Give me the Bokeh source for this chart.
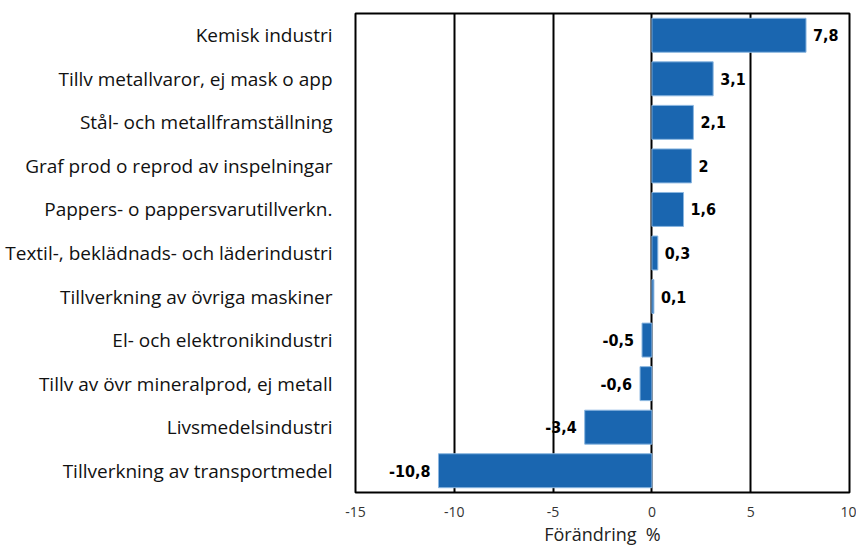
from bokeh.plotting import figure
from bokeh.models import ColumnDataSource, FactorRange, Range1d, FixedTicker
from bokeh.core.properties import value
from bokeh.embed import file_html
from bokeh.resources import INLINE

categories = [
    "Kemisk industri",
    "Tillv metallvaror, ej mask o app",
    "Stål- och metallframställning",
    "Graf prod o reprod av inspelningar",
    "Pappers- o pappersvarutillverkn.",
    "Textil-, beklädnads- och läderindustri",
    "Tillverkning av övriga maskiner",
    "El- och elektronikindustri",
    "Tillv av övr mineralprod, ej metall",
    "Livsmedelsindustri",
    "Tillverkning av transportmedel",
]
values = [7.8, 3.1, 2.1, 2.0, 1.6, 0.3, 0.1, -0.5, -0.6, -3.4, -10.8]
x_ticks = [-15, -10, -5, 0, 5, 10]
x_tick_labels = ["-15", "-10", "-5", "0", "5", "10"]
x_title = "Förändring\u00a0\u00a0%"


def fmt(v):
    s = ("%.1f" % v).rstrip("0").rstrip(".")
    return s.replace(".", ",")


labels = [fmt(v) for v in values]

src = ColumnDataSource(dict(cat=categories, val=values, lab=labels))
pos = ColumnDataSource(dict(
    cat=[c for c, v in zip(categories, values) if v >= 0],
    val=[v for v in values if v >= 0],
    lab=[l for l, v in zip(labels, values) if v >= 0]))
neg = ColumnDataSource(dict(
    cat=[c for c, v in zip(categories, values) if v < 0],
    val=[v for v in values if v < 0],
    lab=[l for l, v in zip(labels, values) if v < 0]))

p = figure(width=856, height=548, output_backend="svg", toolbar_location=None,
           y_range=FactorRange(factors=list(reversed(categories)), range_padding=0),
           x_range=Range1d(-15, 10),
           min_border_left=355, min_border_right=7, min_border_top=13, min_border_bottom=55)

p.hbar(y="cat", right="val", left=0, height=0.78, source=src,
       fill_color="#1a66b0", line_color="#8ab6e0", line_width=1)

narrow = value("Liberation Sans Narrow, Arial Narrow, DejaVu Sans Condensed, sans-serif")
p.text(x="val", y="cat", text="lab", source=pos, x_offset=7,
       text_align="left", text_baseline="middle", text_font=narrow,
       text_font_style="bold", text_font_size="16px", text_color="#000000")
p.text(x="val", y="cat", text="lab", source=neg, x_offset=-8,
       text_align="right", text_baseline="middle", text_font=narrow,
       text_font_style="bold", text_font_size="16px", text_color="#000000")

p.outline_line_color = "#000000"
p.outline_line_width = 2

p.ygrid.grid_line_color = None
p.xgrid.ticker = FixedTicker(ticks=[-10, -5, 0, 5])
p.xgrid.grid_line_color = "#000000"
p.xgrid.grid_line_width = 2

p.xaxis.ticker = FixedTicker(ticks=x_ticks)
p.xaxis.major_label_overrides = {t: s for t, s in zip(x_ticks, x_tick_labels)}
p.xaxis.axis_line_color = None
p.xaxis.major_tick_line_color = None
p.xaxis.minor_tick_line_color = None
p.xaxis.major_label_standoff = 8
p.xaxis.major_label_text_font = "Open Sans"
p.xaxis.major_label_text_font_size = "14px"
p.xaxis.major_label_text_color = "#333333"
p.xaxis.axis_label = x_title
p.xaxis.axis_label_text_font = "Open Sans"
p.xaxis.axis_label_text_font_size = "18px"
p.xaxis.axis_label_text_font_style = "normal"
p.xaxis.axis_label_text_color = "#222222"
p.xaxis.axis_label_standoff = 2

p.yaxis.axis_line_color = None
p.yaxis.major_tick_line_color = None
p.yaxis.minor_tick_line_color = None
p.yaxis.major_label_standoff = 17
p.yaxis.major_label_text_font = "Open Sans"
p.yaxis.major_label_text_font_size = "19px"
p.yaxis.major_label_text_color = "#111111"

open("out.html", "w").write(file_html(p, INLINE))
